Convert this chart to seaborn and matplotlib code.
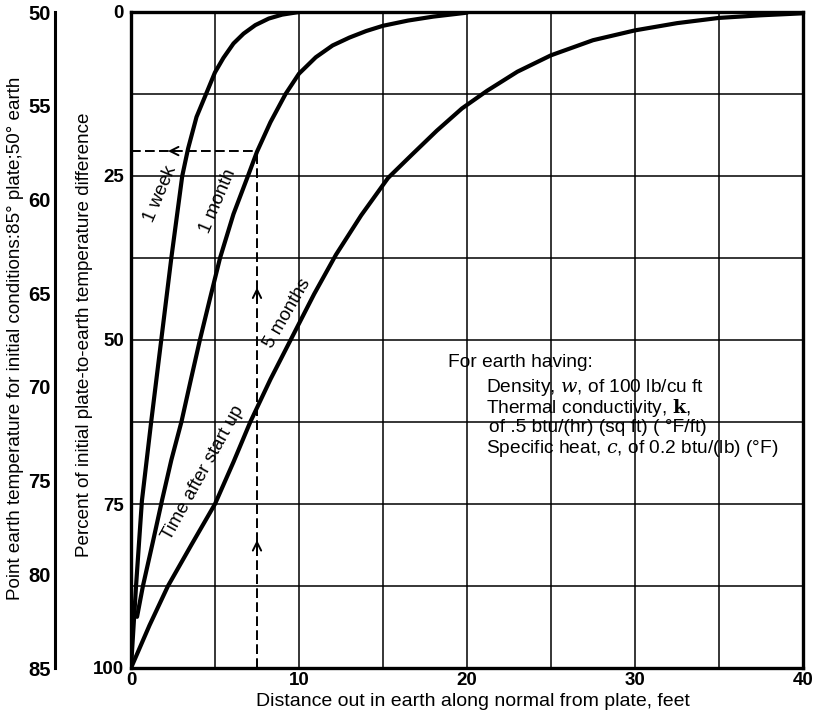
import matplotlib
matplotlib.use("Agg")
import matplotlib.pyplot as plt
import pandas as pd
import seaborn as sns
from matplotlib.ticker import MultipleLocator

sns.set_theme(style="white")
plt.rcParams['font.family'] = ['Liberation Sans', 'DejaVu Sans']
plt.rcParams['mathtext.fontset'] = 'dejavuserif'

# Temperature-difference profiles in the earth after start up
week_x = [0, 0.3, 0.65, 1.2, 1.8, 2.4, 3.05, 3.4, 3.9, 4.5, 5.0, 5.5, 6.1, 6.7,
          7.4, 8.2, 9.0, 10.0]
week_y = [100, 87.5, 74.5, 62.5, 50, 37.5, 25, 20.8, 16.0, 12.3, 9.2, 7.0, 4.8, 3.3,
          2.0, 1.0, 0.4, 0.0]

month_x = [0.36, 0.71, 1.3, 1.85, 2.4, 3.0, 3.55, 4.1, 4.7, 5.3, 6.1, 6.96, 7.5,
           8.3, 9.2, 10.0, 11.0, 12.0, 13.0, 14.0, 15.0, 16.5, 18.0, 20.0]
month_y = [92.2, 87.5, 80.8, 74.4, 68.3, 62.5, 56.2, 50, 43.7, 37.5, 30.8, 25, 21.3,
           16.8, 12.5, 9.4, 6.9, 5.1, 3.9, 2.9, 2.1, 1.3, 0.7, 0.1]

months5_x = [0, 1.1, 2.2, 3.6, 5.0, 6.1, 7.1, 8.3, 9.5, 10.9, 12.2, 13.7, 15.3, 16.7,
             18.2, 19.7, 21.2, 23.0, 25.0, 27.5, 30.0, 32.5, 35.0, 37.5, 40.0]
months5_y = [100, 93.5, 87.5, 81.2, 75, 68.6, 62.5, 56.0, 50, 43.0, 37.0, 31.0, 25.3,
             21.8, 18.1, 14.7, 12.0, 9.1, 6.6, 4.3, 2.8, 1.7, 0.9, 0.5, 0.2]

curve_names = ["1 week", "1 month", "5 months"]

# Worked example: 7.5 ft out, after 1 month
guide_x = 7.5
guide_y = 21.2

x_ticks = [0, 10, 20, 30, 40]
pct_ticks = [0, 25, 50, 75, 100]
temp_ticks = [50, 55, 60, 65, 70, 75, 80, 85]

df = pd.concat([
    pd.DataFrame({"distance": week_x, "percent": week_y, "curve": curve_names[0]}),
    pd.DataFrame({"distance": month_x, "percent": month_y, "curve": curve_names[1]}),
    pd.DataFrame({"distance": months5_x, "percent": months5_y, "curve": curve_names[2]}),
], ignore_index=True)

W, H = 814, 717
fig = plt.figure(figsize=(W / 100, H / 100), dpi=100)
L, R, T, B = 131, 803, 12, 668
ax = fig.add_axes([L / W, 1 - B / H, (R - L) / W, (B - T) / H])

sns.lineplot(data=df, x="distance", y="percent", hue="curve",
             palette={n: "black" for n in curve_names}, sort=False,
             estimator=None, lw=3.0, legend=False, ax=ax,
             solid_joinstyle="round", solid_capstyle="round")

ax.set_xlim(0, 40)
ax.set_ylim(100, 0)
ax.set_xticks(x_ticks)
ax.set_yticks(pct_ticks)
ax.xaxis.set_minor_locator(MultipleLocator(5))
ax.yaxis.set_minor_locator(MultipleLocator(12.5))
ax.grid(which="both", color="black", lw=1.1)
ax.set_axisbelow(True)
ax.set_xlabel("")
ax.set_ylabel("")
for s in ax.spines.values():
    s.set_color("black")
    s.set_linewidth(2.4)
ax.tick_params(axis="x", which="both", length=0, pad=3, labelsize=13.5,
               labelcolor="black")
ax.tick_params(axis="y", which="major", length=4, width=1.2, color="black",
               direction="out", pad=1, labelsize=13.5, labelcolor="black")
ax.tick_params(axis="y", which="minor", length=0)
for lab in ax.get_xticklabels() + ax.get_yticklabels():
    lab.set_fontweight("bold")

# Dashed guide lines with arrows
ax.plot([0, guide_x], [guide_y, guide_y], color="black", lw=1.4, dashes=(5, 2.2))
ax.plot([guide_x, guide_x], [100, guide_y], color="black", lw=1.4, dashes=(5, 2.2))
arrow = dict(arrowstyle="->", color="black", lw=1.4, mutation_scale=15,
             shrinkA=0, shrinkB=0)
ax.annotate("", xy=(2.2, guide_y), xytext=(2.6, guide_y), arrowprops=arrow)
ax.annotate("", xy=(guide_x, 42.0), xytext=(guide_x, 44.0), arrowprops=arrow)
ax.annotate("", xy=(guide_x, 80.5), xytext=(guide_x, 82.5), arrowprops=arrow)

# Curve labels
lab_kw = dict(ha="center", va="center", rotation_mode="anchor", fontsize=13.5,
              color="black")
ax.text(1.75, 27.8, "1 week", rotation=67, **lab_kw)
ax.text(5.2, 28.8, "1 month", rotation=67, **lab_kw)
ax.text(9.3, 46.0, "5 months", rotation=60, **lab_kw)
ax.text(4.3, 70.3, "Time after start up", rotation=61, **lab_kw)

# Soil properties
note_kw = dict(ha="left", va="center", fontsize=13.8, color="black")
ax.text(18.87, 53.4, "For earth having:", **note_kw)
ax.text(21.13, 57.3, r"Density, $w$, of 100 lb/cu ft", **note_kw)
ax.text(21.13, 60.4, r"Thermal conductivity, $\mathbf{k}$,", **note_kw)
ax.text(21.3, 63.4, "of .5 btu/(hr) (sq ft) ( °F/ft)", **note_kw)
ax.text(21.13, 66.5, r"Specific heat, $c$, of 0.2 btu/(lb) (°F)", **note_kw)

# Temperature scale on the far left
ax2 = fig.add_axes([55 / W, 1 - B / H, 0.002, (B - T) / H])
ax2.patch.set_visible(False)
ax2.set_ylim(85, 50)
ax2.set_yticks(temp_ticks)
ax2.set_xticks([])
for s in ["top", "right", "bottom"]:
    ax2.spines[s].set_visible(False)
ax2.spines["left"].set_color("black")
ax2.spines["left"].set_linewidth(2.2)
ax2.tick_params(axis="y", direction="in", length=11, width=2, color="black",
                pad=3, labelsize=14.5, labelcolor="black")
for lab in ax2.get_yticklabels():
    lab.set_fontweight("bold")

fig.text(16 / W, 1 - 338 / H,
         "Point earth temperature for initial conditions:85° plate;50° earth",
         rotation=90, ha="center", va="center", fontsize=13.6, color="black")
fig.text(85 / W, 1 - 335 / H,
         "Percent of initial plate-to-earth temperature difference",
         rotation=90, ha="center", va="center", fontsize=13.6, color="black")
fig.text(473 / W, 1 - 701 / H,
         "Distance out in earth along normal from plate, feet",
         ha="center", va="center", fontsize=14, color="black")

fig.savefig("out.png", dpi=100, facecolor="white")
